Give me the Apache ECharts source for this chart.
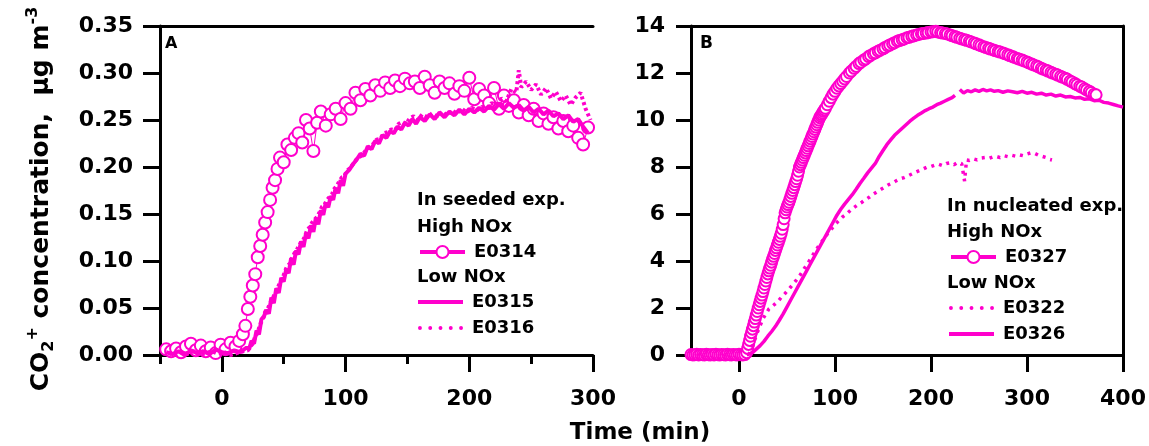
<!DOCTYPE html>
<html><head><meta charset="utf-8">
<script src="https://cdn.jsdelivr.net/npm/echarts@6/dist/echarts.min.js"></script>
<style>html,body{margin:0;padding:0;background:#fff}#c{width:1149px;height:446px}</style>
</head><body><div id="c"></div>
<script>
// ---------- data ----------
const xTicksA = [0, 100, 200, 300];
const xMinorA = [-50, 50, 150, 250];
const xTicksB = [0, 100, 200, 300, 400];

// Panel A (seeded), time (min) vs CO2+ (ug m-3)
const e0314 = [[-45,0.006],[-41,0.004],[-37,0.007],[-33,0.003],[-29,0.009],[-25,0.012],[-21,0.005],[-17,0.010],[-13,0.004],[-9,0.008],[-5,0.002],[-1,0.011],[3,0.006],[7,0.013],[11,0.009],[14,0.015],[17,0.022],[19,0.031],[21,0.049],[23,0.062],[25,0.074],[27,0.086],[29,0.104],[31,0.116],[33,0.128],[35,0.141],[37,0.152],[39,0.165],[41,0.178],[43,0.186],[45,0.198],[47,0.210],[50,0.205],[53,0.224],[56,0.218],[59,0.231],[62,0.236],[65,0.226],[68,0.250],[71,0.241],[74,0.217],[77,0.247],[80,0.259],[84,0.244],[88,0.256],[92,0.262],[96,0.251],[100,0.268],[104,0.262],[108,0.279],[112,0.271],[116,0.283],[120,0.276],[124,0.287],[128,0.281],[132,0.290],[136,0.284],[140,0.292],[144,0.286],[148,0.294],[152,0.289],[156,0.291],[160,0.284],[164,0.296],[168,0.287],[172,0.279],[176,0.291],[180,0.284],[184,0.289],[188,0.278],[192,0.286],[196,0.281],[200,0.295],[204,0.272],[208,0.283],[212,0.276],[216,0.268],[220,0.284],[224,0.262],[228,0.276],[232,0.265],[236,0.271],[240,0.258],[244,0.266],[248,0.255],[252,0.262],[256,0.249],[260,0.257],[264,0.246],[268,0.253],[272,0.241],[276,0.249],[280,0.238],[284,0.244],[288,0.231],[292,0.224],[296,0.242]];
const e0315 = [[-45,0.003],[-40,0.001],[-35,0.004],[-30,0.000],[-25,0.005],[-20,0.002],[-15,0.004],[-10,0.001],[-5,0.006],[0,0.003],[5,0.002],[10,0.005],[15,0.003],[20,0.008],[22,0.006],[24,0.015],[26,0.012],[28,0.026],[30,0.022],[32,0.038],[34,0.041],[36,0.048],[38,0.044],[40,0.061],[42,0.055],[44,0.071],[46,0.066],[48,0.082],[50,0.078],[52,0.091],[54,0.087],[56,0.103],[58,0.096],[60,0.111],[62,0.107],[64,0.121],[66,0.115],[68,0.129],[70,0.124],[72,0.138],[74,0.131],[76,0.146],[78,0.139],[80,0.154],[82,0.149],[84,0.162],[86,0.157],[88,0.169],[90,0.165],[92,0.178],[94,0.172],[96,0.186],[98,0.180],[100,0.193],[103,0.197],[106,0.203],[109,0.208],[112,0.214],[115,0.212],[118,0.222],[121,0.219],[124,0.228],[127,0.225],[130,0.234],[133,0.231],[136,0.238],[139,0.236],[142,0.243],[145,0.240],[148,0.247],[151,0.244],[154,0.251],[157,0.246],[160,0.253],[164,0.249],[168,0.256],[172,0.251],[176,0.258],[180,0.253],[184,0.259],[188,0.255],[192,0.261],[196,0.256],[200,0.262],[204,0.258],[208,0.263],[212,0.259],[216,0.265],[220,0.261],[224,0.267],[228,0.262],[232,0.268],[236,0.263],[240,0.266],[244,0.260],[248,0.264],[252,0.258],[256,0.262],[260,0.256],[264,0.260],[268,0.254],[272,0.257],[276,0.251],[280,0.255],[284,0.248],[288,0.251],[292,0.243],[296,0.236]];
const e0316 = [[-43,0.002],[-38,0.000],[-33,0.003],[-28,0.001],[-23,0.004],[-18,0.000],[-13,0.002],[-8,0.004],[-3,0.001],[2,0.003],[7,0.000],[12,0.002],[17,0.004],[21,0.005],[23,0.009],[25,0.012],[27,0.020],[29,0.024],[31,0.033],[33,0.037],[35,0.046],[37,0.049],[39,0.055],[41,0.060],[43,0.066],[45,0.070],[47,0.078],[49,0.081],[51,0.089],[53,0.095],[55,0.097],[57,0.104],[59,0.109],[61,0.113],[63,0.118],[65,0.120],[67,0.126],[69,0.133],[71,0.136],[73,0.141],[75,0.144],[77,0.147],[79,0.152],[81,0.158],[83,0.160],[85,0.165],[87,0.168],[89,0.171],[91,0.177],[93,0.180],[95,0.185],[97,0.189],[99,0.190],[101,0.196],[104,0.199],[107,0.205],[110,0.210],[113,0.212],[116,0.217],[119,0.221],[122,0.224],[125,0.229],[128,0.230],[131,0.236],[134,0.237],[137,0.240],[140,0.239],[143,0.246],[146,0.248],[149,0.246],[152,0.252],[155,0.254],[158,0.250],[162,0.256],[166,0.253],[170,0.257],[174,0.254],[178,0.259],[182,0.255],[186,0.260],[190,0.257],[194,0.262],[198,0.258],[202,0.263],[206,0.260],[210,0.264],[214,0.262],[218,0.268],[222,0.266],[226,0.273],[230,0.270],[234,0.283],[238,0.279],[240,0.303],[242,0.285],[246,0.291],[250,0.282],[254,0.288],[258,0.277],[262,0.284],[266,0.273],[270,0.280],[274,0.270],[278,0.276],[282,0.266],[286,0.274],[290,0.279],[294,0.262],[298,0.250]];

// Panel B (nucleated)
const e0327 = [[-50,0.02],[-48,0.0],[-46,0.01],[-44,0.03],[-42,0.0],[-40,0.02],[-38,0.01],[-36,0.0],[-34,0.03],[-32,0.01],[-30,0.0],[-28,0.02],[-26,0.0],[-24,0.03],[-22,0.01],[-20,0.0],[-18,0.02],[-16,0.01],[-14,0.0],[-12,0.03],[-10,0.01],[-8,0.0],[-6,0.02],[-4,0.01],[-2,0.0],[0,0.03],[2,0.01],[4,0.0],[6,0.02],[8,0.1],[9,0.28],[10,0.45],[11,0.62],[12,0.8],[13,0.95],[14,1.1],[15,1.25],[16,1.4],[17,1.55],[18,1.7],[19,1.85],[20,2.0],[21,2.14],[22,2.28],[23,2.42],[24,2.55],[25,2.7],[26,2.85],[27,3.0],[28,3.15],[29,3.3],[30,3.45],[31,3.58],[32,3.7],[33,3.82],[34,3.95],[35,4.08],[36,4.2],[37,4.32],[38,4.45],[39,4.56],[40,4.68],[41,4.8],[42,4.92],[43,5.05],[44,5.18],[45,5.35],[46,5.55],[47,5.8],[48,6.05],[49,6.18],[50,6.3],[51,6.4],[52,6.5],[53,6.62],[54,6.75],[55,6.88],[56,7.0],[57,7.12],[58,7.25],[59,7.38],[60,7.5],[61,7.65],[62,7.82],[63,8.0],[64,8.1],[65,8.2],[66,8.3],[67,8.4],[68,8.5],[69,8.6],[70,8.7],[71,8.8],[72,8.9],[73,9.0],[74,9.1],[75,9.2],[76,9.3],[77,9.4],[78,9.5],[79,9.6],[80,9.7],[81,9.8],[82,9.9],[83,10.0],[84,10.1],[85,10.17],[86,10.23],[87,10.3],[88,10.37],[89,10.43],[90,10.5],[92,10.65],[94,10.8],[96,10.95],[98,11.1],[100,11.22],[102,11.35],[104,11.45],[106,11.55],[108,11.65],[110,11.75],[112,11.85],[115,12.0],[117,12.08],[120,12.2],[122,12.28],[125,12.4],[127,12.46],[130,12.55],[132,12.6],[135,12.7],[137,12.75],[140,12.82],[142,12.86],[145,12.93],[147,12.97],[150,13.03],[152,13.08],[155,13.15],[157,13.19],[160,13.25],[162,13.29],[165,13.35],[167,13.38],[170,13.42],[172,13.45],[175,13.5],[177,13.52],[180,13.56],[182,13.58],[185,13.62],[187,13.64],[190,13.67],[192,13.68],[195,13.7],[197,13.72],[200,13.75],[202,13.76],[205,13.78],[207,13.75],[210,13.72],[212,13.7],[215,13.68],[217,13.66],[220,13.62],[222,13.59],[225,13.55],[227,13.52],[230,13.48],[232,13.45],[235,13.42],[237,13.39],[240,13.35],[242,13.32],[245,13.28],[247,13.24],[250,13.2],[252,13.16],[255,13.12],[257,13.09],[260,13.05],[262,13.02],[265,12.98],[267,12.95],[270,12.92],[272,12.89],[275,12.85],[277,12.82],[280,12.78],[282,12.74],[285,12.7],[287,12.66],[290,12.62],[292,12.59],[295,12.55],[297,12.51],[300,12.47],[302,12.43],[305,12.38],[307,12.34],[310,12.3],[312,12.26],[315,12.2],[317,12.16],[320,12.12],[322,12.08],[325,12.03],[327,11.99],[330,11.95],[332,11.91],[335,11.86],[337,11.82],[340,11.78],[342,11.73],[345,11.66],[347,11.62],[350,11.55],[352,11.5],[355,11.44],[357,11.4],[360,11.33],[362,11.28],[365,11.22],[367,11.17],[370,11.1],[372,11.07]];
const e0322 = [[10,0.0],[13,0.3],[16,0.6],[19,0.95],[22,1.25],[25,1.55],[28,1.75],[31,1.95],[34,2.05],[37,2.15],[40,2.25],[44,2.45],[48,2.62],[52,2.8],[56,3.0],[60,3.2],[64,3.42],[68,3.68],[72,3.92],[76,4.2],[80,4.45],[84,4.7],[88,4.92],[92,5.15],[96,5.35],[100,5.55],[104,5.72],[108,5.88],[112,6.0],[116,6.15],[120,6.28],[124,6.4],[128,6.5],[132,6.62],[136,6.72],[140,6.85],[144,6.95],[148,7.05],[152,7.15],[156,7.25],[160,7.32],[164,7.42],[168,7.5],[172,7.55],[176,7.62],[180,7.7],[184,7.78],[188,7.85],[192,7.92],[196,8.0],[200,8.02],[204,8.08],[208,8.12],[212,8.06],[216,8.15],[220,8.18],[224,8.1],[228,8.2],[232,8.14],[235,7.4],[237,8.3],[240,8.28],[244,8.35],[248,8.3],[252,8.38],[256,8.4],[260,8.36],[264,8.42],[268,8.45],[272,8.4],[276,8.48],[280,8.44],[284,8.5],[288,8.46],[292,8.52],[296,8.48],[300,8.55],[304,8.6],[308,8.58],[312,8.5],[316,8.45],[320,8.4],[324,8.32],[326,8.3]];
const e0326 = [[8,0.0],[10,0.0],[14,0.1],[18,0.25],[22,0.4],[26,0.58],[30,0.8],[34,1.0],[38,1.22],[42,1.48],[46,1.75],[50,2.05],[54,2.35],[58,2.65],[62,2.95],[66,3.25],[70,3.55],[74,3.85],[78,4.15],[82,4.45],[86,4.75],[90,5.05],[94,5.35],[98,5.65],[102,5.95],[106,6.2],[110,6.42],[114,6.62],[118,6.82],[122,7.05],[126,7.3],[130,7.52],[134,7.75],[138,7.95],[142,8.15],[146,8.45],[150,8.7],[154,8.95],[158,9.15],[162,9.35],[166,9.5],[170,9.65],[174,9.8],[178,9.95],[182,10.08],[186,10.2],[190,10.3],[194,10.4],[198,10.48],[202,10.55],[206,10.65],[210,10.72],[214,10.8],[218,10.88],[222,10.95],[225,11.05],[227,null],[230,11.3],[234,11.15],[238,11.25],[242,11.2],[246,11.28],[250,11.22],[254,11.3],[258,11.24],[262,11.28],[266,11.22],[270,11.25],[275,11.18],[280,11.24],[285,11.2],[290,11.16],[295,11.22],[300,11.14],[305,11.18],[310,11.1],[315,11.14],[320,11.06],[325,11.1],[330,11.02],[335,11.06],[340,10.98],[345,11.0],[350,10.94],[355,10.96],[360,10.88],[365,10.9],[370,10.82],[375,10.84],[380,10.75],[385,10.72],[390,10.66],[395,10.6],[400,10.55]];

// ---------- style ----------
const C = '#ff00cc';
const FF = '"DejaVu Sans", sans-serif';
const lbl = {fontFamily: FF, fontWeight: 'bold', fontSize: 22, color: '#000'};
const axLine = {show: true, onZero: false, lineStyle: {color: '#000', width: 3}};

function mainX(grid, min, max, ticks) {
  return {type: 'value', gridIndex: grid, min: min, max: max, position: 'bottom',
    axisLine: axLine, splitLine: {show: false},
    axisTick: {show: true, inside: false, length: 17, customValues: ticks, lineStyle: {color: '#000', width: 3}},
    axisLabel: Object.assign({show: true, margin: 33, customValues: ticks}, lbl)};
}
function lineOnly(grid, pos, min, max) {
  return {type: 'value', gridIndex: grid, position: pos, min: min, max: max,
    axisLine: axLine, axisTick: {show: false}, axisLabel: {show: false}, splitLine: {show: false}};
}
function leg(name, left, cy, icon, extra) {
  const d = {name: name};
  if (icon) d.icon = icon;
  return Object.assign({
    data: [d], left: left, top: cy - 10, padding: 0, itemWidth: 45, itemHeight: 15,
    selectedMode: false, orient: 'horizontal',
    textStyle: {fontFamily: FF, fontWeight: 'bold', fontSize: 18, color: '#000', lineHeight: 20, padding: [0, 0, 0, 4]}
  }, extra || {});
}
const dotIcon = 'path://M2,0a2,2 0 1,1 0,4a2,2 0 1,1 0,-4zM12.5,0a2,2 0 1,1 0,4a2,2 0 1,1 0,-4zM23,0a2,2 0 1,1 0,4a2,2 0 1,1 0,-4zM33.5,0a2,2 0 1,1 0,4a2,2 0 1,1 0,-4zM44,0a2,2 0 1,1 0,4a2,2 0 1,1 0,-4z';

function txt(x, y, s, size) {
  return {type: 'text', x: x, y: y, style: {text: s, fill: '#000', font: 'bold ' + size + 'px ' + FF, align: 'left', verticalAlign: 'middle'}};
}

const chart = echarts.init(document.getElementById('c'), null, {renderer: 'canvas'});
chart.setOption({
  animation: false,
  backgroundColor: '#fff',
  grid: [
    {left: 160, right: 556, top: 26, bottom: 91},
    {left: 691, right: 26, top: 26, bottom: 91}
  ],
  xAxis: [
    mainX(0, -50, 300, xTicksA),
    {type: 'value', gridIndex: 0, min: -50, max: 300, position: 'bottom',
      axisLine: {show: false, onZero: false}, splitLine: {show: false}, axisLabel: {show: false},
      axisTick: {show: true, length: 9, customValues: xMinorA, lineStyle: {color: '#000', width: 3}}},
    lineOnly(0, 'top', -50, 300),
    mainX(1, -50, 400, xTicksB),
    lineOnly(1, 'top', -50, 400)
  ],
  yAxis: [
    {type: 'value', gridIndex: 0, min: 0, max: 0.35, interval: 0.05, position: 'left',
      axisLine: axLine, splitLine: {show: false},
      axisTick: {show: true, length: 17, lineStyle: {color: '#000', width: 3}},
      axisLabel: Object.assign({margin: 27, formatter: v => v.toFixed(2)}, lbl)},
    {type: 'value', gridIndex: 1, min: 0, max: 14, interval: 2, position: 'left',
      axisLine: axLine, splitLine: {show: false},
      axisTick: {show: true, length: 15, lineStyle: {color: '#000', width: 3}},
      axisLabel: Object.assign({margin: 26}, lbl)},
    lineOnly(1, 'right', 0, 14)
  ],
  legend: [
    leg('E0314', 418, 252, null, {lineStyle: {width: 4, color: C}}),
    leg('E0315', 418, 302, 'rect', {itemHeight: 4, itemStyle: {color: C}}),
    leg('E0316', 418, 328, dotIcon, {itemHeight: 4, itemStyle: {color: C}}),
    leg('E0327', 949, 257, null, {lineStyle: {width: 4, color: C}}),
    leg('E0322', 949, 308, dotIcon, {itemHeight: 4, itemStyle: {color: C}}),
    leg('E0326', 949, 334, 'rect', {itemHeight: 4, itemStyle: {color: C}})
  ],
  graphic: [
    txt(165, 44, 'A', 16),
    txt(700, 44, 'B', 17),
    txt(417, 200, 'In seeded exp.', 18),
    txt(417, 227, 'High NOx', 18),
    txt(417, 277, 'Low NOx', 18),
    txt(947, 206, 'In nucleated exp.', 18),
    txt(947, 232, 'High NOx', 18),
    txt(947, 283, 'Low NOx', 18),
    {type: 'text', x: 640, y: 433, style: {text: 'Time (min)', fill: '#000', font: 'bold 23px ' + FF, align: 'center', verticalAlign: 'middle'}},
    {type: 'text', x: 41, y: 199, rotation: Math.PI / 2,
      style: {text: '{n|CO}{sub|2}{sup|+}{n| concentration,  \u00b5g m}{sup|-3}', fill: '#000',
        align: 'center', verticalAlign: 'middle',
        rich: {
          n: {fontFamily: FF, fontWeight: 'bold', fontSize: 25, lineHeight: 32, fill: '#000'},
          sub: {fontFamily: FF, fontWeight: 'bold', fontSize: 16, lineHeight: 15, verticalAlign: 'bottom', fill: '#000'},
          sup: {fontFamily: FF, fontWeight: 'bold', fontSize: 16, lineHeight: 15, verticalAlign: 'top', fill: '#000'}
        }}}
  ],
  series: [
    {name: 'E0314', type: 'line', xAxisIndex: 0, yAxisIndex: 0, data: e0314, color: C,
      symbol: 'emptyCircle', symbolSize: 12, showSymbol: true, lineStyle: {width: 1, color: C},
      itemStyle: {color: C, borderWidth: 1}, z: 2},
    {name: 'E0315', type: 'line', xAxisIndex: 0, yAxisIndex: 0, data: e0315, color: C,
      symbol: 'none', lineStyle: {width: 4, color: C}, z: 3},
    {name: 'E0316', type: 'line', xAxisIndex: 0, yAxisIndex: 0, data: e0316, color: C,
      symbol: 'none', lineStyle: {width: 4, color: C, type: [3, 3]}, z: 3},
    {name: 'E0327', type: 'line', xAxisIndex: 3, yAxisIndex: 1, data: e0327, color: C,
      symbol: 'emptyCircle', symbolSize: 11, showSymbol: true, lineStyle: {width: 1, color: C},
      itemStyle: {color: C, borderWidth: 1}, z: 2},
    {name: 'E0322', type: 'line', xAxisIndex: 3, yAxisIndex: 1, data: e0322, color: C,
      symbol: 'none', lineStyle: {width: 3.5, color: C, type: [3, 5]}, z: 3},
    {name: 'E0326', type: 'line', xAxisIndex: 3, yAxisIndex: 1, data: e0326, color: C,
      symbol: 'none', connectNulls: false, lineStyle: {width: 3.5, color: C}, z: 3}
  ]
});
</script></body></html>
